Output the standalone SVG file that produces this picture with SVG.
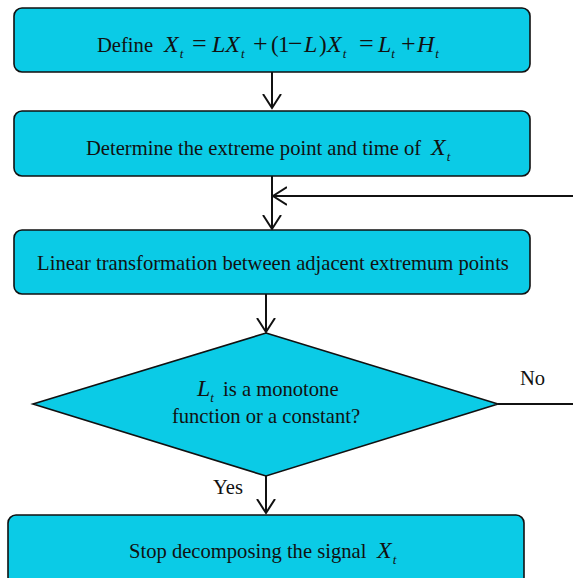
<svg xmlns="http://www.w3.org/2000/svg" width="573" height="578" viewBox="0 0 573 578">
<defs>
<style>
.box{fill:#0bcbe6;stroke:#111;stroke-width:1.6}
.t{font-family:"Liberation Serif","Times New Roman",serif;font-size:20.6px;fill:#111}
.m{font-style:italic;font-size:24px}
.o{font-size:26px}
.p{font-size:23px}
.s{font-style:italic;font-size:13px}
.ln{fill:none;stroke:#111;stroke-width:2}
</style>
<marker id="ah" viewBox="0 0 20 20" refX="14" refY="10" markerWidth="20" markerHeight="20" markerUnits="userSpaceOnUse" orient="auto">
<path d="M0,1 L14,10 L0,19" fill="none" stroke="#111" stroke-width="2"/>
</marker>
</defs>
<g id="connectors">
<line class="ln" x1="272" y1="72" x2="272" y2="108" marker-end="url(#ah)"/>
<line class="ln" x1="272" y1="176" x2="272" y2="229" marker-end="url(#ah)"/>
<line class="ln" x1="573" y1="196" x2="273" y2="196" marker-end="url(#ah)"/>
<line class="ln" x1="266" y1="294" x2="266" y2="332" marker-end="url(#ah)"/>
<line class="ln" x1="498" y1="404" x2="573" y2="404"/>
<line class="ln" x1="266" y1="476" x2="266" y2="513" marker-end="url(#ah)"/>
<text class="t" x="520" y="385">No</text>
<text class="t" x="213" y="494">Yes</text>
</g>
<g id="n1">
<rect class="box" x="14" y="8" width="516" height="64" rx="8"/>
<text class="t" y="52"><tspan x="97">Define</tspan><tspan class="m" x="164">X</tspan><tspan class="s" dx="1" y="58">t</tspan><tspan class="o" x="192" y="52">=</tspan><tspan class="m" x="212">LX</tspan><tspan class="s" dx="1" y="58">t</tspan><tspan class="o" x="253" y="52">+</tspan><tspan class="p" x="271">(</tspan><tspan class="p" x="278">1</tspan><tspan class="o" x="288">−</tspan><tspan class="m" x="304">L</tspan><tspan class="p" x="319">)</tspan><tspan class="m" x="327">X</tspan><tspan class="s" dx="1" y="58">t</tspan><tspan class="o" x="359" y="52">=</tspan><tspan class="m" x="378">L</tspan><tspan class="s" dx="0" y="58">t</tspan><tspan class="o" x="401" y="52">+</tspan><tspan class="m" x="417">H</tspan><tspan class="s" dx="1" y="58">t</tspan></text>
</g>
<g id="n2">
<rect class="box" x="14" y="111" width="516" height="65" rx="8"/>
<text class="t" x="86" y="155">Determine the extreme point and time of<tspan class="m" x="431">X</tspan><tspan class="s" dx="1" y="161">t</tspan></text>
</g>
<g id="n3">
<rect class="box" x="14" y="230" width="516" height="64" rx="8"/>
<text class="t" x="273" y="270" text-anchor="middle">Linear transformation between adjacent extremum points</text>
</g>
<g id="n4">
<polygon class="box" points="266,333 498,404 266,476 33,404"/>
<text class="t" y="396"><tspan class="m" x="197">L</tspan><tspan class="s" dx="0" y="402">t</tspan><tspan x="223" y="396">is a monotone</tspan></text>
<text class="t" x="266" y="423" text-anchor="middle">function or a constant?</text>
</g>
<g id="n5">
<rect class="box" x="8" y="515" width="516" height="70" rx="8"/>
<text class="t" x="129" y="558">Stop decomposing the signal<tspan class="m" x="377">X</tspan><tspan class="s" dx="1" y="564">t</tspan></text>
</g>
</svg>
